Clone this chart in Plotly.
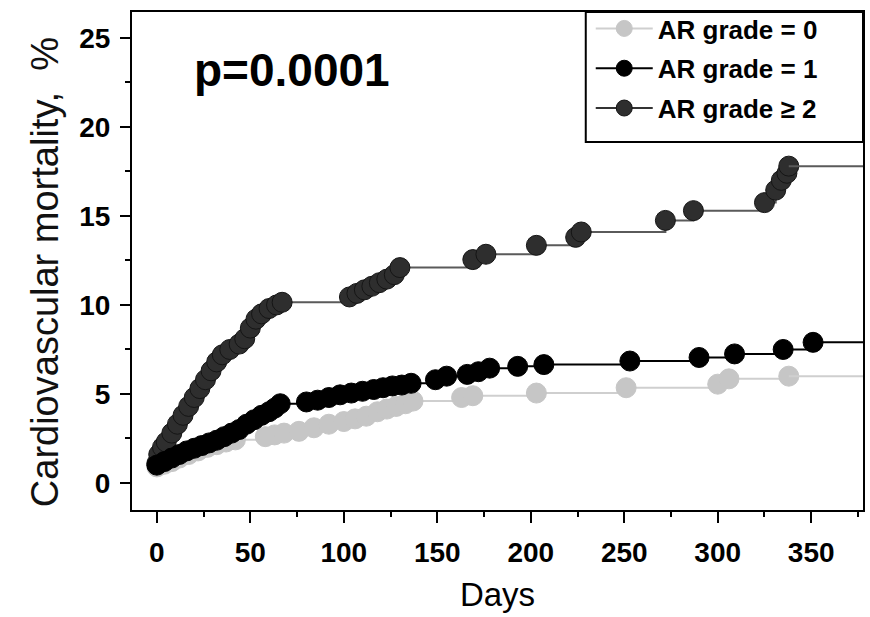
import plotly.graph_objects as go

# Cumulative cardiovascular mortality (%) at event times (days), by AR grade
grade0_days = [0, 4, 8, 12, 17, 22, 27, 32, 37, 42, 58, 63, 68, 76, 84, 92, 100, 106, 112,
               118, 123, 128, 133, 137, 163, 169, 203, 251, 300, 306, 338]
grade0_mort = [0.9, 1.05, 1.2, 1.4, 1.6, 1.8, 2.0, 2.15, 2.3, 2.42, 2.6, 2.7, 2.8, 2.9, 3.1,
               3.3, 3.45, 3.6, 3.75, 4.0, 4.15, 4.3, 4.45, 4.6, 4.8, 4.9, 5.05, 5.35, 5.55,
               5.85, 6.0]

grade1_days = [0, 4, 8, 12, 16, 20, 24, 28, 32, 36, 40, 44, 48, 52, 56, 60, 63, 66,
               80, 86, 92, 98, 104, 110, 116, 121, 126, 131, 136, 149, 155, 166, 172, 178,
               193, 207, 253, 290, 309, 335, 351]
grade1_mort = [1.0, 1.2, 1.4, 1.6, 1.8, 1.95, 2.1, 2.25, 2.4, 2.6, 2.8, 3.0, 3.3, 3.55,
               3.8, 4.0, 4.2, 4.45, 4.55, 4.65, 4.8, 4.95, 5.05, 5.15, 5.25, 5.35, 5.45,
               5.5, 5.6, 5.8, 6.0, 6.1, 6.25, 6.45, 6.55, 6.65, 6.85, 7.05, 7.25, 7.5, 7.9]

grade2_days = [0, 1, 3, 5, 8, 11, 14, 17, 20, 23, 26, 29, 32, 35, 39, 44, 47, 50, 53, 56,
               60, 64, 67, 103, 107, 111, 115, 119, 123, 127, 130, 169, 176, 203, 224, 227,
               272, 287, 325, 331, 334, 337, 338]
grade2_mort = [1.1, 1.6, 2.0, 2.3, 2.8, 3.3, 3.8, 4.3, 4.8, 5.3, 5.8, 6.3, 6.8, 7.2, 7.5,
               7.8, 8.1, 8.7, 9.2, 9.5, 9.8, 10.0, 10.15, 10.45, 10.65, 10.85, 11.05, 11.25,
               11.45, 11.7, 12.1, 12.55, 12.85, 13.35, 13.8, 14.1, 14.75, 15.3, 15.75, 16.45,
               17.0, 17.4, 17.8]

follow_up_end = 378

FONT = "Liberation Sans, Arial, sans-serif"

series = [
    ("AR grade = 0", grade0_days, grade0_mort, "#c6c6c6", "#cfcfcf", "#c6c6c6"),
    ("AR grade ≥ 2", grade2_days, grade2_mort, "#2e2e2e", "#5a5a5a", "#151515"),
    ("AR grade = 1", grade1_days, grade1_mort, "#000000", "#000000", "#000000"),
]
legend_rank = {"AR grade = 0": 1, "AR grade = 1": 2, "AR grade ≥ 2": 3}

fig = go.Figure()
for name, days, mort, mcolor, lcolor, ocolor in series:
    # step curve through the events, with a marker at each event
    fig.add_trace(go.Scatter(
        x=days, y=mort, name=name, mode="lines+markers", legendgroup=name,
        line=dict(shape="hv", color=lcolor if name != "AR grade ≥ 2" else "#3a3a3a",
                  width=2),
        marker=dict(size=20, color=mcolor, line=dict(color=ocolor, width=1)),
        legendrank=legend_rank[name],
    ))
    # flat tail after the last event up to the end of follow-up
    fig.add_trace(go.Scatter(
        x=[days[-1], follow_up_end], y=[mort[-1], mort[-1]], mode="lines",
        legendgroup=name, line=dict(color=lcolor, width=2),
        showlegend=False, hoverinfo="skip",
    ))

# the dark-grey curve's steps are drawn in a lighter grey than its legend line
fig.data[2].line.color = "#5a5a5a"
fig.add_trace(go.Scatter(
    x=[None], y=[None], name="AR grade ≥ 2", mode="lines+markers",
    legendgroup="AR grade ≥ 2", legendrank=3,
    line=dict(color="#333333", width=2),
    marker=dict(size=20, color="#2e2e2e", line=dict(color="#151515", width=1)),
))
fig.data[2].showlegend = False

fig.add_annotation(
    x=72.3, y=23.2, xref="x", yref="y", text="<b>p=0.0001</b>", showarrow=False,
    font=dict(family=FONT, size=46, color="#000"),
    xanchor="center", yanchor="middle",
)

# y-axis title
fig.add_annotation(
    x=-0.1187, y=0.478, xref="paper", yref="paper", xanchor="center", yanchor="middle",
    text="Cardiovascular mortality,  %", textangle=-90, showarrow=False,
    font=dict(family=FONT, size=38, color="#111"),
)

# legend frame
fig.add_shape(
    type="rect", xref="paper", yref="paper",
    x0=(587 - 132) / 733, x1=1.0, y0=(510 - 142) / 498, y1=1.0,
    line=dict(color="#000", width=2), fillcolor="rgba(0,0,0,0)", layer="above",
)

axis_font = dict(family=FONT, size=28, color="#000", weight="bold")

fig.update_layout(
    width=870, height=617,
    margin=dict(l=132, r=5, t=12, b=107),
    paper_bgcolor="white", plot_bgcolor="white",
    font=dict(family=FONT, color="#000"),
    showlegend=True,
    legend=dict(
        x=(592 - 132) / 733, xanchor="left", y=1.014, yanchor="top",
        bgcolor="rgba(0,0,0,0)", borderwidth=0,
        font=dict(family=FONT, size=26, color="#000", weight="bold"),
        itemwidth=57, tracegroupgap=3,
    ),
    xaxis=dict(
        range=[-13.3, 377.7], tickvals=[0, 50, 100, 150, 200, 250, 300, 350],
        showgrid=False, zeroline=False,
        showline=True, linecolor="#000", linewidth=2, mirror=True,
        ticks="outside", ticklen=11, tickwidth=2, tickcolor="#000",
        ticklabelstandoff=5,
        minor=dict(tickvals=[25, 75, 125, 175, 225, 275, 325, 375], ticks="outside",
                   ticklen=5, tickwidth=2, tickcolor="#000"),
        tickfont=axis_font,
        title=dict(text="Days", standoff=16,
                   font=dict(family=FONT, size=33, color="#000")),
    ),
    yaxis=dict(
        range=[-1.52, 26.46], tickvals=[0, 5, 10, 15, 20, 25],
        showgrid=False, zeroline=False,
        showline=True, linecolor="#000", linewidth=2, mirror=True,
        ticks="outside", ticklen=10, tickwidth=2, tickcolor="#000",
        ticklabelstandoff=4,
        minor=dict(tickvals=[2.5, 7.5, 12.5, 17.5, 22.5], ticks="outside",
                   ticklen=5, tickwidth=2, tickcolor="#000"),
        tickfont=axis_font,
    ),
)

fig.write_html("out.html")
